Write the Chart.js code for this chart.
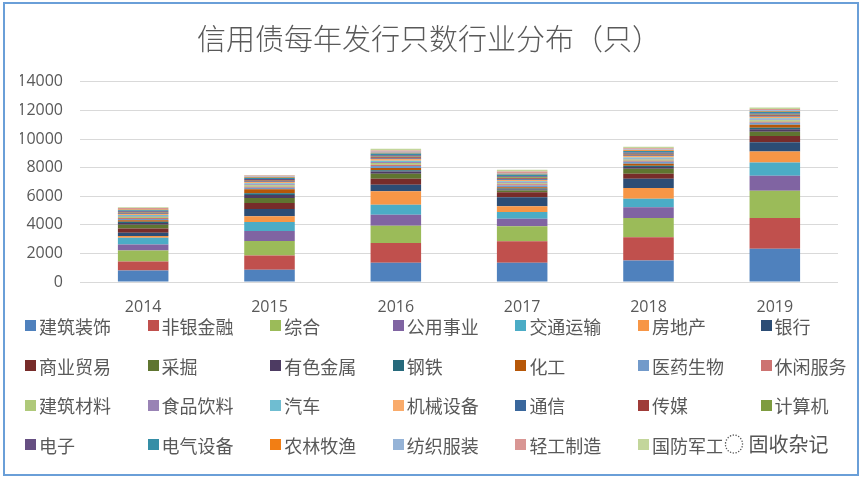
<!DOCTYPE html>
<html>
<head>
<meta charset="utf-8">
<script src="https://cdn.jsdelivr.net/npm/chart.js@4"></script>
<style>
  body { margin: 0; background: #fff; }
  #frame { position: absolute; left: 3px; top: 2px; width: 852px; height: 470px; border: 2px solid #6a9fd8; }
  #wrap { position: absolute; left: 0; top: 0; width: 866px; height: 318px; }
  #legend { position: absolute; left: 25px; top: 306px; display: grid;
    grid-template-columns: repeat(7, 122.6px); grid-auto-rows: 39.7px; }
  .item { display: flex; align-items: center; font-family: "Noto Sans CJK SC"; font-size: 18px; color: #595959; white-space: nowrap; }
  .box { width: 11px; height: 11px; margin-right: 3px; flex: none; }
  #mark { position: absolute; left: 722px; top: 429px; font-family: "Noto Sans CJK SC"; font-size: 20px; color: #555;
    background: rgba(255,255,255,0.85); padding: 0 6px 0 2px; }
</style>
</head>
<body>
<div id="frame"></div>
<div id="wrap"><canvas id="chart"></canvas></div>
<div id="legend"></div>
<div id="mark">◌ 固收杂记</div>
<script>
const years = ['2014', '2015', '2016', '2017', '2018', '2019'];

const industries = ['建筑装饰', '非银金融', '综合', '公用事业', '交通运输', '房地产', '银行',
  '商业贸易', '采掘', '有色金属', '钢铁', '化工', '医药生物', '休闲服务',
  '建筑材料', '食品饮料', '汽车', '机械设备', '通信', '传媒', '计算机',
  '电子', '电气设备', '农林牧渔', '纺织服装', '轻工制造', '国防军工'];

// bonds issued per industry, one array per year (same order as industries)
const v2014 = [800, 630, 770, 420, 480, 120, 230, 300, 250, 120, 90, 110, 90, 70, 90, 50, 60, 80, 30, 50, 40, 60, 80, 50, 40, 60, 50];
const v2015 = [850, 1010, 1000, 700, 630, 410, 510, 420, 350, 200, 120, 280, 110, 70, 110, 60, 70, 100, 30, 60, 50, 60, 90, 50, 40, 60, 50];
const v2016 = [1340, 1390, 1210, 770, 700, 930, 460, 420, 350, 150, 100, 150, 150, 80, 120, 70, 90, 120, 40, 80, 60, 80, 120, 60, 60, 90, 120];
const v2017 = [1340, 1510, 1045, 535, 465, 395, 630, 350, 120, 80, 60, 100, 120, 80, 80, 60, 70, 100, 40, 80, 60, 80, 110, 60, 60, 100, 120];
const v2018 = [1510, 1625, 1345, 745, 605, 745, 650, 350, 350, 120, 80, 150, 130, 70, 90, 60, 80, 100, 40, 70, 60, 80, 100, 60, 50, 80, 105];
const v2019 = [2320, 2160, 1900, 1045, 930, 765, 650, 440, 300, 180, 100, 200, 150, 70, 100, 60, 80, 110, 40, 60, 50, 80, 110, 60, 50, 80, 120];

const yearValues = [v2014, v2015, v2016, v2017, v2018, v2019];

const colors = ['#4F81BD', '#C0504D', '#9BBB59', '#8064A2', '#4BACC6', '#F79646', '#2C4D75',
  '#772C2A', '#5F7530', '#4D3B62', '#276A7C', '#B65708', '#729ACA', '#CD7371',
  '#AFC97A', '#9983B5', '#6FBDD1', '#F9AB6B', '#3A679C', '#9F3B38', '#7E9C40',
  '#664F82', '#358EA6', '#F27E14', '#95B3D7', '#D99694', '#C3D69B'];

const datasets = industries.map((name, i) => ({
  label: name,
  data: yearValues.map(v => v[i]),
  backgroundColor: colors[i],
  barPercentage: 0.4,
  categoryPercentage: 1.0
}));

const ctx = document.getElementById('chart').getContext('2d');
const chart = new Chart(ctx, {
  type: 'bar',
  data: { labels: years, datasets: datasets },
  options: {
    responsive: true,
    maintainAspectRatio: false,
    animation: false,
    // symmetric padding so the title sits in the middle of the frame
    layout: { padding: { left: 20, right: 28, top: 0, bottom: 0 } },
    plugins: {
      legend: { display: false },
      tooltip: { enabled: false },
      title: {
        display: true,
        text: '信用债每年发行只数行业分布（只）',
        color: '#595959',
        font: { family: 'Noto Sans CJK SC', size: 29, weight: '300' },
        padding: { top: 22, bottom: 25 }
      }
    },
    scales: {
      x: {
        stacked: true,
        grid: { display: false },
        border: { display: false },
        ticks: { color: '#595959', padding: 8, font: { family: 'Open Sans', size: 16 } },
        afterFit: scale => { scale.height = 36; }
      },
      y: {
        stacked: true,
        min: 0,
        max: 14000,
        ticks: {
          stepSize: 2000, color: '#595959', padding: 17,
          font: { family: 'Open Sans', size: 16 },
          callback: v => String(v)
        },
        grid: { color: '#D9D9D9', drawTicks: false },
        border: { display: false },
        afterFit: scale => { scale.width = 60; }
      }
    }
  }
});

// legend as a 7-column grid, built from the datasets
const legendEl = document.getElementById('legend');
chart.data.datasets.forEach(ds => {
  const item = document.createElement('div');
  item.className = 'item';
  item.innerHTML = '<span class="box" style="background:' + ds.backgroundColor + '"></span>' + ds.label;
  legendEl.appendChild(item);
});
</script>
</body>
</html>
